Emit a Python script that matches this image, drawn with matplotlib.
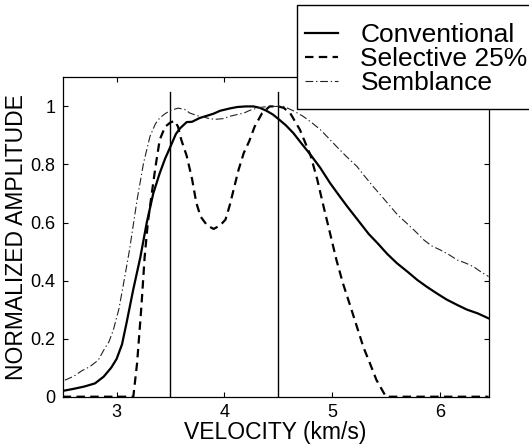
import matplotlib
matplotlib.use("Agg")
import matplotlib.pyplot as plt
from matplotlib.patches import Rectangle

plt.rcParams['font.family'] = ['Liberation Sans', 'DejaVu Sans']

# Conventional
conv_v = [2.50, 2.60, 2.70, 2.80, 2.88, 2.95, 3.00, 3.05, 3.09, 3.155, 3.22, 3.28, 3.34, 3.40,
          3.45, 3.50, 3.55, 3.59, 3.65, 3.70, 3.77, 3.84, 3.90, 3.96, 4.05, 4.12, 4.20, 4.27,
          4.33, 4.39, 4.45, 4.50, 4.57, 4.64, 4.72, 4.80, 4.89, 4.98, 5.06, 5.14, 5.26, 5.34,
          5.42, 5.51, 5.60, 5.70, 5.79, 5.88, 5.97, 6.06, 6.16, 6.25, 6.35, 6.45]
conv_a = [0.02, 0.027, 0.035, 0.046, 0.069, 0.10, 0.13, 0.18, 0.25, 0.37, 0.48, 0.60, 0.70, 0.77,
          0.82, 0.862, 0.905, 0.925, 0.946, 0.947, 0.96, 0.968, 0.975, 0.985, 0.993, 0.998, 1.0, 1.0,
          0.995, 0.985, 0.972, 0.957, 0.935, 0.908, 0.87, 0.833, 0.788, 0.736, 0.695, 0.655, 0.598, 0.56,
          0.529, 0.492, 0.46, 0.43, 0.402, 0.378, 0.356, 0.335, 0.316, 0.30, 0.287, 0.27]

# Selective 25%
sel_v = [2.50, 3.00, 3.155, 3.19, 3.23, 3.26, 3.29, 3.33, 3.36, 3.40, 3.45, 3.50, 3.54, 3.57,
         3.60, 3.65, 3.70, 3.74, 3.78, 3.84, 3.90, 3.96, 4.01, 4.05, 4.09, 4.13, 4.18, 4.23,
         4.28, 4.35, 4.42, 4.50, 4.55, 4.61, 4.70, 4.80, 4.86, 4.92, 4.98, 5.04, 5.10, 5.17,
         5.23, 5.29, 5.35, 5.41, 5.48, 5.50, 6.45]
sel_a = [0, 0, 0, 0.115, 0.31, 0.48, 0.60, 0.71, 0.79, 0.885, 0.93, 0.945, 0.95, 0.93,
         0.885, 0.83, 0.75, 0.667, 0.62, 0.59, 0.578, 0.59, 0.61, 0.66, 0.72, 0.78, 0.84, 0.88,
         0.93, 0.977, 1.0, 1.0, 0.995, 0.977, 0.92, 0.83, 0.75, 0.655, 0.563, 0.47, 0.39, 0.31,
         0.24, 0.17, 0.115, 0.058, 0.012, 0, 0]

# Semblance
semb_v = [2.52, 2.60, 2.68, 2.75, 2.83, 2.88, 2.93, 2.97, 3.02, 3.06, 3.12, 3.19, 3.25, 3.31,
          3.36, 3.40, 3.45, 3.50, 3.57, 3.63, 3.68, 3.75, 3.81, 3.87, 3.93, 3.99, 4.05, 4.12,
          4.18, 4.24, 4.30, 4.36, 4.42, 4.50, 4.55, 4.64, 4.73, 4.81, 4.89, 4.96, 5.04, 5.13,
          5.23, 5.30, 5.38, 5.46, 5.54, 5.61, 5.69, 5.77, 5.85, 5.92, 6.00, 6.08, 6.16, 6.24,
          6.31, 6.38, 6.45]
semb_a = [0.057, 0.07, 0.09, 0.103, 0.126, 0.16, 0.19, 0.23, 0.30, 0.38, 0.506, 0.678, 0.805, 0.897,
          0.94, 0.96, 0.975, 0.986, 0.994, 0.99, 0.977, 0.968, 0.963, 0.957, 0.956, 0.958, 0.966, 0.972,
          0.977, 0.987, 0.994, 0.998, 1.0, 1.0, 1.0, 0.985, 0.966, 0.944, 0.92, 0.893, 0.862, 0.828,
          0.793, 0.76, 0.724, 0.69, 0.655, 0.625, 0.598, 0.57, 0.54, 0.52, 0.506, 0.49, 0.471, 0.46,
          0.448, 0.43, 0.414]

marker_v = [3.5, 4.5]
x_ticks = [3, 4, 5, 6]
y_ticks = [0, 0.2, 0.4, 0.6, 0.8, 1]
y_tick_labels = ['0', '0.2', '0.4', '0.6', '0.8', '1']

W, H = 529, 446
fig = plt.figure(figsize=(W / 100, H / 100), dpi=100)
ax = fig.add_axes([0.1185, 0.1105, 0.805, 0.716])

for v in marker_v:
    ax.plot([v, v], [0, 1.05], color='black', lw=1.0)

ax.plot(conv_v, conv_a, color='black', lw=1.6, label='Conventional')
ax.plot(sel_v, sel_a, color='black', lw=1.6, dashes=(3.8, 2.4), label='Selective 25%')
ax.plot(semb_v, semb_a, color='#222222', lw=0.8, dashes=(7, 2.5, 1.2, 2.5), label='Semblance')

ax.set_xlim(2.5, 6.45)
ax.set_ylim(0, 1.1)
ax.set_xticks(x_ticks)
ax.set_yticks(y_ticks)
ax.set_yticklabels(y_tick_labels)
ax.tick_params(direction='in', length=3.5, width=0.8, labelsize=13, top=True, right=True, pad=5)
for s in ax.spines.values():
    s.set_linewidth(0.9)

ax.set_xlabel('VELOCITY (km/s)', fontsize=16.5, labelpad=0)
ax.set_ylabel('NORMALIZED AMPLITUDE', fontsize=16.5, labelpad=2)

# legend box runs past the right edge of the figure, as in the original
fig.patches.append(Rectangle((297 / W, 1 - 109 / H), 260 / W, 104.5 / H, transform=fig.transFigure,
                             facecolor='white', edgecolor='black', lw=1.0, zorder=3))
leg = fig.legend(loc='upper left', bbox_to_anchor=(305 / W, 1 - 23 / H), fontsize=19,
                 frameon=False, borderaxespad=0, borderpad=0, labelspacing=0.0,
                 handlelength=1.25, handletextpad=0.85)
leg.set_zorder(4)

fig.savefig('out.png', dpi=100)
